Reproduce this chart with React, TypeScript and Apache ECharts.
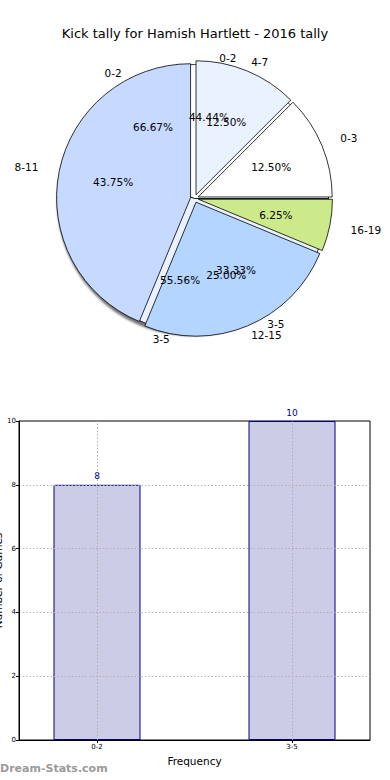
import React, { useEffect, useRef } from 'react';
import * as echarts from 'echarts';

const TITLE = 'Kick tally for Hamish Hartlett - 2016 tally';

// main pie (5 groups)
const pieCategories = ['0-3', '4-7', '8-11', '12-15', '16-19'];
const pieValues = [2, 2, 7, 4, 1];
const pieColors = ['#ffffff', '#eaf1ff', '#c6d9ff', '#b3d5ff', '#cdea8a'];

// overlaid two-group pies
const pairCategories = ['0-2', '3-5'];
const pairValuesA = [8, 10]; // 44.44% / 55.56%
const pairValuesB = [2, 1]; // 66.67% / 33.33%
const pairColors = ['#ffffff', '#eaf1ff'];

// bar chart
const barCategories = ['0-2', '3-5'];
const barValues = [8, 10];
const yTicks = [0, 2, 4, 6, 8, 10];

const FONT = 'DejaVu Sans';
const CX = 194.5;
const CY = 198.5;
const R = 134;
// the reference pie is slightly elliptical; label distances follow that shape
const RX = 141.5;
const RY = 129;

const pct = (p: any) => Number(p.percent).toFixed(2) + '%';

const clear = { color: 'rgba(0,0,0,0)', borderWidth: 0 };

function labelLengths(values: number[]) {
  const total = values.reduce((a, b) => a + b, 0);
  let cum = 0;
  return values.map((v) => {
    const mid = ((cum + v / 2) / total) * Math.PI * 2;
    cum += v;
    const d = 1.1 * Math.hypot(RX * Math.cos(mid), RY * Math.sin(mid));
    return Math.max(2, d - R);
  });
}

function namePie(names: string[], values: number[], colors: string[] | null, extra: any = {}) {
  const lens = labelLengths(values);
  return {
    type: 'pie',
    center: [CX, CY],
    radius: R,
    startAngle: 0,
    clockwise: false,
    avoidLabelOverlap: false,
    silent: true,
    emphasis: { disabled: true },
    labelLayout: { hideOverlap: false },
    data: names.map((n, i) => ({
      name: n,
      value: values[i],
      labelLine: { show: false, length: lens[i], length2: 0 },
      itemStyle: colors
        ? { color: colors[i], borderColor: '#000', borderWidth: 0.8 }
        : clear,
    })),
    label: {
      show: true,
      position: 'outside',
      formatter: '{b}',
      fontFamily: FONT,
      fontSize: 10.5,
      color: '#000',
      distanceToLabelLine: 0,
    },
    labelLine: { show: false, length: 17, length2: 0 },
    ...extra,
  };
}

function pctPie(names: string[], values: number[]) {
  return {
    type: 'pie',
    center: [CX, CY],
    radius: [0, 160],
    startAngle: 0,
    clockwise: false,
    avoidLabelOverlap: false,
    silent: true,
    z: 5,
    emphasis: { disabled: true },
    labelLayout: { hideOverlap: false },
    data: names.map((n, i) => ({ name: n, value: values[i], itemStyle: clear })),
    label: {
      show: true,
      position: 'inside',
      formatter: pct,
      fontFamily: FONT,
      fontSize: 10.5,
      color: '#000',
    },
    labelLine: { show: false },
  };
}

export default function App() {
  const ref = useRef<HTMLDivElement>(null);

  useEffect(() => {
    if (!ref.current) return;
    const chart = echarts.init(ref.current, null, { renderer: 'svg' });

    const underlay: any = namePie(pairCategories, pairValuesA, pairColors);
    underlay.data.forEach((d: any) => {
      d.itemStyle.shadowColor = 'rgba(0,0,0,0.55)';
      d.itemStyle.shadowBlur = 2;
      d.itemStyle.shadowOffsetX = -3;
      d.itemStyle.shadowOffsetY = 3;
    });

    const main: any = namePie(pieCategories, pieValues, pieColors, {
      selectedMode: 'multiple',
      selectedOffset: 4,
      select: { itemStyle: { borderColor: '#000', borderWidth: 0.8 } },
    });
    main.data.forEach((d: any) => (d.selected = true));

    const option: any = {
      animation: false,
      title: {
        text: TITLE,
        left: 'center',
        top: 22,
        textStyle: { fontFamily: FONT, fontSize: 13, fontWeight: 'normal', color: '#000' },
      },
      grid: {
        left: 19,
        right: 20,
        top: 421,
        bottom: 40,
        show: true,
        borderColor: '#000',
        borderWidth: 1,
        containLabel: false,
        outerBoundsMode: 'none',
      },
      xAxis: {
        type: 'value',
        min: -0.4,
        max: 1.4,
        z: 5,
        name: 'Frequency',
        nameLocation: 'middle',
        nameGap: 15,
        nameMoveOverlap: false,
        nameTextStyle: { fontFamily: FONT, fontSize: 10.5, color: '#000' },
        axisLine: { show: true, onZero: false, lineStyle: { color: '#000', width: 1 } },
        axisTick: { show: true, customValues: [0, 1], length: 3, lineStyle: { color: '#000' } },
        axisLabel: {
          customValues: [0, 1],
          formatter: (v: number) => barCategories[Math.round(v)] ?? '',
          fontFamily: FONT,
          fontSize: 7,
          color: '#000',
          margin: 3,
        },
        splitLine: { show: false },
      },
      yAxis: {
        type: 'value',
        min: yTicks[0],
        max: yTicks[yTicks.length - 1],
        interval: 2,
        z: 5,
        name: 'Number of Games',
        nameLocation: 'middle',
        nameGap: 16,
        nameMoveOverlap: false,
        nameTextStyle: { fontFamily: FONT, fontSize: 10.5, color: '#000' },
        axisLine: { show: true, onZero: false, lineStyle: { color: '#000', width: 1 } },
        axisTick: { show: true, length: 3, lineStyle: { color: '#000' } },
        axisLabel: { fontFamily: FONT, fontSize: 7, color: '#000', margin: 3 },
        splitLine: {
          show: true,
          showMinLine: false,
          showMaxLine: false,
          lineStyle: { color: '#b0b0b0', width: 1, type: [1.5, 2] },
        },
      },
      graphic: [
        {
          type: 'text',
          left: 0,
          top: 763,
          style: { text: 'Dream-Stats.com', fill: '#9a9a9a', font: `bold 11px "${FONT}"` },
        },
      ],
      series: [
        underlay,
        main,
        namePie(pairCategories, pairValuesB, null),
        pctPie(pieCategories, pieValues),
        pctPie(pairCategories, pairValuesA),
        pctPie(pairCategories, pairValuesB),
        {
          type: 'bar',
          data: barValues.map((v, i) => [i, v]),
          barWidth: 87,
          itemStyle: { color: '#ccccE6', borderColor: '#000080', borderWidth: 1 },
          label: {
            show: true,
            position: 'top',
            distance: 4,
            formatter: (p: any) => String(p.value[1]),
            fontFamily: FONT,
            fontSize: 9,
            color: '#00008b',
          },
          markLine: {
            silent: true,
            symbol: 'none',
            label: { show: false },
            lineStyle: { color: '#b0b0b0', width: 1, type: [1.5, 2] },
            data: barValues.map((_, i) => ({ xAxis: i })),
          },
        },
      ],
    };

    chart.setOption(option);
    return () => chart.dispose();
  }, []);

  return (
    <div
      ref={ref}
      style={{ position: 'fixed', left: 0, top: 0, width: 390, height: 780, background: '#fff' }}
    />
  );
}
